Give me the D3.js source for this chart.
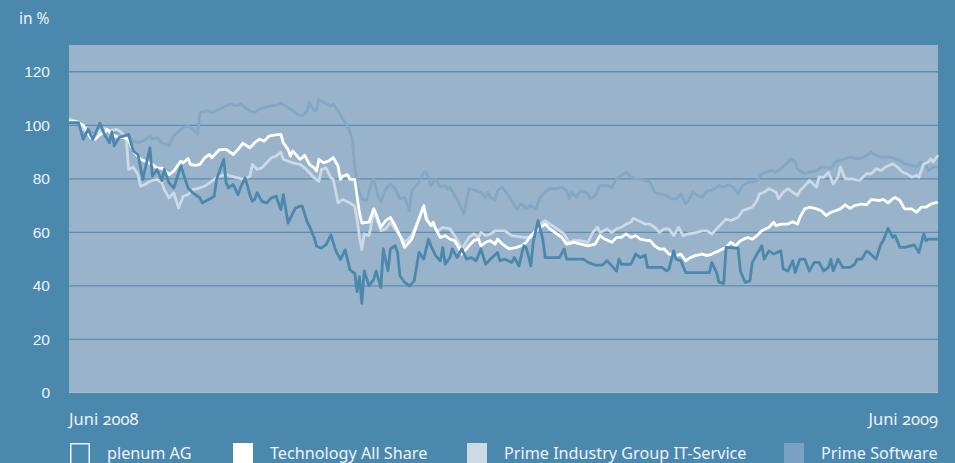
<!DOCTYPE html>
<html>
<head>
<meta charset="utf-8">
<script src="https://cdn.jsdelivr.net/npm/d3@7"></script>
<style>
  html, body { margin: 0; padding: 0; background: #4b88ae; }
  svg { display: block; font-family: "Noto Sans", "Open Sans", sans-serif; }
  .lbl { fill: #eef3f7; font-size: 15.5px; }
  .onum { font-feature-settings: "onum" 1; font-variant-numeric: oldstyle-nums; }
</style>
</head>
<body>
<svg id="chart"></svg>
<script>
// days after the start (June 2008) and index value in %
const plenumAG = [[0,101],[4,101],[6,94.8],[8,98.5],[10,94.8],[13,100.8],[15,96.4],[17,93.5],[18,97.5],[19,92.3],[21,95.4],[25,96.6],[27,90.4],[29,89],[31,79.8],[34,91.6],[35,81],[37,83.5],[39,79.4],[40,83.5],[42,78.5],[44,76.6],[47,84.8],[50,76.6],[52,74.8],[55,72.9],[56,71],[59,72.5],[61,73.5],[62,79.8],[65,87.3],[66,78.5],[67,76.6],[69,77.9],[71,74],[72,76.6],[74,80.4],[76,74],[77,71.6],[78,72.3],[79,74.8],[81,71.6],[83,71],[85,72.9],[87,73.5],[89,68.5],[90,74.1],[91,69],[92,63.5],[95,69],[97,69.8],[98,69.8],[100,64],[101,62.3],[103,58],[104,54.8],[106,54.1],[108,55.4],[110,59],[112,53.4],[114,49.8],[116,53.5],[118,46],[120,44.8],[121,37.9],[122,43.5],[123,33.5],[124,45.6],[126,40],[128,42.5],[129,45.6],[131,39.4],[132,53.8],[134,45.6],[135,53.8],[137,55],[138,52.5],[139,43.8],[141,41.3],[143,40],[145,41.9],[147,52.5],[149,50],[151,57.5],[152,55],[154,51.3],[156,49.4],[157,54.4],[158,48.1],[160,50.6],[161,53.8],[163,50.6],[165,53.8],[167,50],[169,50.6],[171,49.4],[173,53.8],[175,48.1],[177,50],[180,52.5],[181,49.4],[183,50],[186,48.8],[187,50.6],[189,47.5],[191,55],[192,54.4],[194,47.5],[195,56.3],[197,64.4],[199,57.5],[200,50.6],[206,50.6],[208,53.8],[209,50],[216,50],[218,48.8],[221,47.8],[224,47.8],[226,49.4],[228,47.5],[230,45.6],[231,50],[232,48.1],[236,48.1],[238,51.9],[240,50.6],[242,51.5],[243,46.9],[249,46.9],[251,45.6],[252,46.3],[254,53.1],[255,50],[257,49.4],[259,45],[269,45],[270,48.8],[272,45],[273,41.3],[275,41],[276,54.4],[281,54.1],[282,45.6],[284,41.3],[286,41.9],[287,48.8],[289,51.9],[291,55],[292,50],[294,53.1],[296,51.9],[299,53.1],[300,46.3],[302,45.6],[304,49.4],[305,45],[307,50],[309,50],[311,45.6],[313,48.8],[315,48.8],[317,45.6],[319,46.9],[320,50],[321,45.6],[323,50],[325,46.9],[328,46.9],[330,48.1],[331,50],[333,50],[335,53.1],[336,52.5],[339,50],[341,55.6],[342,56.9],[344,61.5],[346,58.1],[347,58.8],[349,54.4],[351,54.4],[355,55.3],[357,52.5],[359,59.4],[360,56.9],[361,57.5],[365,57.5]];

const technologyAllShare = [[0,101.6],[3,101.3],[6,100],[7,98.8],[9,95.4],[11,94.8],[13,96.6],[15,97.3],[16,98.5],[18,96.6],[21,95.4],[23,95.4],[25,94.8],[26,92.3],[27,90.4],[30,87.3],[32,86.6],[35,85.4],[37,84],[39,84],[42,81.6],[44,82.9],[46,85.4],[47,86.6],[48,86],[50,87.6],[51,85.4],[53,85],[55,85.4],[57,87.9],[59,89.1],[60,87.9],[63,90.8],[66,91],[69,89.1],[71,91],[73,93.3],[76,91.6],[78,93.5],[80,94.8],[82,94.1],[84,96],[86,96.3],[89,96.6],[90,93.5],[92,91],[93,88.5],[94,90.4],[97,87.3],[98,87.9],[99,88.8],[101,85.4],[103,84.1],[104,82.9],[105,87.3],[107,86],[109,86.6],[111,87.9],[113,84.8],[114,79.8],[115,81],[117,81.6],[118,79.8],[120,79.8],[121,73.5],[122,67.3],[123,63.5],[126,63.8],[128,68.8],[129,66.9],[131,61.9],[133,64.4],[135,65.6],[137,62.5],[139,58.8],[141,54.4],[144,57.5],[146,62.5],[149,70],[150,65],[152,62.5],[153,63.8],[154,61.3],[156,58.1],[158,58.8],[160,57.5],[162,56.9],[164,53.8],[165,51.9],[168,55],[170,56.9],[172,57.5],[173,55],[175,56.3],[177,56.9],[179,55.6],[180,57.5],[182,55.6],[185,53.8],[188,54.4],[190,55],[192,56.3],[194,58.8],[197,61.3],[199,62.5],[200,63.1],[202,61.3],[205,59.4],[207,58.1],[209,55.6],[212,56.3],[215,55.6],[218,55],[221,55.6],[223,58.8],[225,57.5],[228,56.3],[230,58.1],[232,58.1],[234,59.4],[236,58.1],[238,58.8],[240,57.5],[243,56.9],[244,57],[246,55],[248,53.8],[250,53.8],[252,51.9],[255,51.3],[257,51.9],[259,49.4],[261,50.6],[263,51.3],[266,51.9],[268,51.3],[270,51.9],[273,53.1],[276,54.4],[278,56.3],[280,55],[282,56.9],[285,58.1],[287,57.5],[289,58.8],[291,60.6],[294,61.9],[296,63.8],[297,62.5],[299,63.1],[302,63.1],[304,64],[306,63.1],[307,65.6],[309,68.8],[311,69.4],[314,68.8],[316,68.1],[318,66.3],[320,67.5],[322,68.1],[324,68.8],[326,70.3],[328,69],[330,70],[333,70.6],[335,70.3],[337,72.3],[340,71.9],[342,72.3],[344,71],[346,72.5],[347,73.1],[349,71.9],[351,68.8],[354,68.8],[356,67.5],[358,69.4],[360,69.4],[362,70.6],[365,71.3]];

const primeITService = [[0,102.3],[4,101.3],[6,98.5],[10,96],[13,97.9],[15,98.8],[17,97.9],[20,98.5],[22,97.3],[24,96],[25,83.5],[27,84.4],[29,81.6],[30,77.3],[32,77.9],[34,79.1],[37,79.8],[39,78.5],[40,76],[42,72.9],[44,74.8],[46,69.1],[48,73.5],[50,74.1],[52,76],[55,76.6],[57,77.3],[59,78.5],[61,79.8],[63,81],[66,81.6],[68,81],[71,80.4],[73,79.8],[76,81],[77,85.4],[79,83.5],[81,84.1],[83,86],[85,87.9],[87,88.5],[89,90],[90,87.3],[92,86.6],[94,86],[97,85.4],[99,84.1],[101,82.3],[103,80.4],[105,79.1],[106,83.5],[108,84.1],[110,80.4],[111,79.8],[113,71],[115,72.3],[118,71],[120,69.8],[121,64.8],[122,58.5],[123,53.5],[124,59.4],[126,58.8],[128,67.5],[129,65.6],[131,60.6],[133,61.3],[135,63.8],[137,61.3],[139,58.8],[141,56.3],[144,58.8],[146,63.1],[149,69.4],[151,63.8],[153,62.5],[155,60.6],[157,61.9],[160,61.3],[162,58.8],[164,55.6],[165,53.8],[168,58.1],[170,59.4],[172,58.1],[173,60],[175,58.8],[177,59.4],[179,60.6],[181,60.6],[183,60.6],[186,58.8],[188,58.5],[191,58.1],[194,58.1],[196,60],[198,63.1],[200,64.4],[202,63.1],[205,61.3],[208,59.4],[210,56.3],[212,56.9],[215,56.9],[218,56.3],[220,60],[222,61.9],[223,60],[226,61.3],[228,60],[230,61.3],[232,61.9],[234,63.1],[236,63.8],[237,65.3],[239,64.4],[242,63.1],[244,63.1],[246,61.9],[248,60],[250,61.3],[252,61.3],[254,58.8],[256,61.9],[258,58.8],[260,59.4],[263,59.8],[266,60.6],[268,60.6],[270,59.4],[272,61.3],[274,63.1],[276,65],[278,64.4],[281,65.6],[283,68.1],[285,68.8],[287,69.4],[289,71.9],[290,74.4],[292,75],[294,76.3],[297,75],[298,72.5],[300,75],[302,76.3],[304,75],[306,73.8],[307,75.6],[309,77.3],[311,79.4],[314,76.9],[315,80.6],[317,80.6],[319,82.5],[321,78.1],[323,80.6],[324,84.4],[326,80],[329,80],[332,79.4],[335,81.9],[337,81.9],[339,83.8],[341,83.1],[343,84.4],[346,85.6],[348,84.4],[350,82.5],[352,81.9],[354,80.6],[356,81.3],[357,80.6],[359,85.6],[361,86.3],[362,87.5],[363,86.3],[365,88.8]];

const primeSoftware = [[0,101.6],[4,100.4],[7,98.5],[11,96.6],[14,97.3],[17,97.9],[20,97.3],[23,97.3],[25,96],[27,94.1],[29,93.5],[31,94.1],[34,95.8],[35,94.8],[37,95.4],[39,93.5],[41,92.9],[42,92.3],[44,96],[46,97.9],[48,99.1],[50,99.8],[52,98.5],[54,96.6],[55,104.8],[58,105.4],[60,104.8],[63,106],[66,107.3],[68,107.9],[70,107.3],[72,107.9],[74,106.6],[76,105.4],[78,104.8],[80,106],[82,106.6],[85,107.3],[87,107.5],[89,108.3],[92,106.6],[94,105.4],[96,104.1],[98,103.5],[100,105.4],[101,108.5],[103,105.4],[104,106],[105,109.8],[108,107.9],[110,107.3],[111,107.9],[113,105.4],[115,102.3],[117,99.8],[119,94.8],[120,84.8],[121,77.3],[123,72.5],[125,71.9],[127,78.1],[128,80],[130,73.1],[131,71.3],[133,76.3],[135,78.1],[137,76.3],[139,72.5],[141,73.1],[143,68.1],[144,75.6],[147,78.8],[149,82.5],[150,82.5],[152,77.5],[154,80],[156,76.9],[158,77.5],[159,76.3],[160,76.9],[162,73.8],[164,70.6],[166,66.9],[167,71.9],[168,76.3],[171,75.6],[173,75],[175,73.1],[176,75],[177,73.1],[179,71.9],[180,75.6],[182,76.9],[185,73.1],[186,71.9],[188,68.8],[190,70.6],[192,68.8],[194,70],[196,68.8],[198,73.1],[200,75],[202,76.3],[205,76.3],[207,76.9],[209,75.6],[210,72.5],[211,75],[213,73.1],[215,75.6],[218,74.4],[219,72.5],[221,73.8],[223,77.5],[226,77.5],[228,76.9],[230,80],[232,81.3],[234,82.5],[236,80.6],[238,80],[240,80],[242,79.4],[244,78.8],[246,75],[248,74.4],[251,73.8],[253,72.5],[255,72.5],[257,74.4],[259,70.6],[261,73.1],[262,75],[264,73.8],[266,73.1],[268,75.6],[270,75.6],[273,77.5],[275,76.9],[277,77.8],[279,76.9],[281,74.4],[283,77.5],[285,78.8],[287,78.8],[289,79.4],[291,81.9],[293,82.5],[295,83.1],[297,82.5],[299,83.8],[302,86.3],[303,87.5],[305,86.3],[306,83.8],[307,83.1],[309,81.9],[311,82.5],[314,83.1],[316,84.4],[318,84.4],[320,83.8],[322,86.3],[324,86.9],[326,87.5],[328,88.1],[331,87.5],[333,87.8],[335,88.8],[337,90],[339,88.8],[341,88.1],[343,88.1],[345,88.1],[347,87.5],[349,86.9],[351,85.6],[354,85],[356,84.4],[358,86.3],[360,85],[361,83.1],[363,84.4],[365,84.4]];

const yTicks = [0, 20, 40, 60, 80, 100, 120];
const startLabel = "Juni 2008";
const endLabel = "Juni 2009";
const legendNames = ["plenum AG", "Technology All Share", "Prime Industry Group IT-Service", "Prime Software"];

const width = 955, height = 463;
const margin = { top: 45, right: 17, bottom: 70, left: 69 };

const svg = d3.select("#chart").attr("width", width).attr("height", height);

svg.append("rect").attr("width", width).attr("height", height).attr("fill", "#4b88ae");

const start = new Date(2008, 5, 2);
const toDate = d => d3.timeDay.offset(start, d);

const x = d3.scaleTime()
  .domain([start, toDate(365)])
  .range([margin.left, width - margin.right]);

const y = d3.scaleLinear()
  .domain([0, 130])
  .range([height - margin.bottom, margin.top]);

// plot background
svg.append("rect")
  .attr("x", x.range()[0])
  .attr("y", y(130))
  .attr("width", x.range()[1] - x.range()[0])
  .attr("height", y(0) - y(130))
  .attr("fill", "#98b3ca");

// grid lines
svg.append("g")
  .selectAll("line")
  .data(yTicks.filter(d => d > 0))
  .join("line")
  .attr("x1", x.range()[0])
  .attr("x2", x.range()[1])
  .attr("y1", d => y(d))
  .attr("y2", d => y(d))
  .attr("stroke", "#5a8eb3")
  .attr("stroke-width", 1.3);

svg.append("line")
  .attr("x1", x.range()[0]).attr("x2", x.range()[1])
  .attr("y1", y(0) - 0.5).attr("y2", y(0) - 0.5)
  .attr("stroke", "#aac0d2").attr("stroke-width", 1);

// y axis labels
const yAxis = svg.append("g")
  .attr("transform", `translate(${margin.left},0)`)
  .call(d3.axisLeft(y).tickValues(yTicks).tickSize(0).tickPadding(19).tickFormat(d3.format("d")));
yAxis.select(".domain").remove();
yAxis.selectAll("text")
  .attr("class", "lbl")
  .style("font-family", null)
  .style("font-size", "15.5px")
  .attr("fill", "#eef3f7");

svg.append("text").attr("class", "lbl").attr("x", 19).attr("y", 24).text("in %");

// series
const line = d3.line()
  .x(d => x(toDate(d[0])))
  .y(d => y(d[1]));

const series = [
  { data: primeSoftware, color: "#82a8c6" },
  { data: primeITService, color: "#cdd9e5" },
  { data: technologyAllShare, color: "#ffffff" },
  { data: plenumAG, color: "#4b88ae" }
];

svg.append("g")
  .selectAll("path")
  .data(series)
  .join("path")
  .attr("d", d => line(d.data))
  .attr("fill", "none")
  .attr("stroke", d => d.color)
  .attr("stroke-width", 2.8)
  .attr("stroke-linejoin", "round");

// x labels
svg.append("text").attr("class", "lbl onum")
  .attr("x", x.range()[0]).attr("y", 425).style("font-size", "16.5px").text(startLabel);
svg.append("text").attr("class", "lbl onum")
  .attr("x", x.range()[1]).attr("y", 425).attr("text-anchor", "end").style("font-size", "16.5px").text(endLabel);

// legend
const legendX = [70, 233, 467, 784];
const legendFill = ["#4b88ae", "#ffffff", "#cdd9e5", "#7aa1c1"];
const leg = svg.append("g")
  .selectAll("g")
  .data(legendNames)
  .join("g")
  .attr("transform", (d, i) => `translate(${legendX[i]},443)`);

leg.append("rect")
  .attr("x", (d, i) => i === 0 ? 0.75 : 0)
  .attr("y", (d, i) => i === 0 ? 0.75 : 0)
  .attr("width", (d, i) => i === 0 ? 18.5 : 20)
  .attr("height", 20)
  .attr("fill", (d, i) => legendFill[i])
  .attr("stroke", (d, i) => i === 0 ? "#eef3f7" : "none")
  .attr("stroke-width", 1.5);

leg.append("text")
  .attr("class", "lbl")
  .attr("x", 37)
  .attr("y", 15.5)
  .style("font-size", "16.2px")
  .text(d => d);
</script>
</body>
</html>
